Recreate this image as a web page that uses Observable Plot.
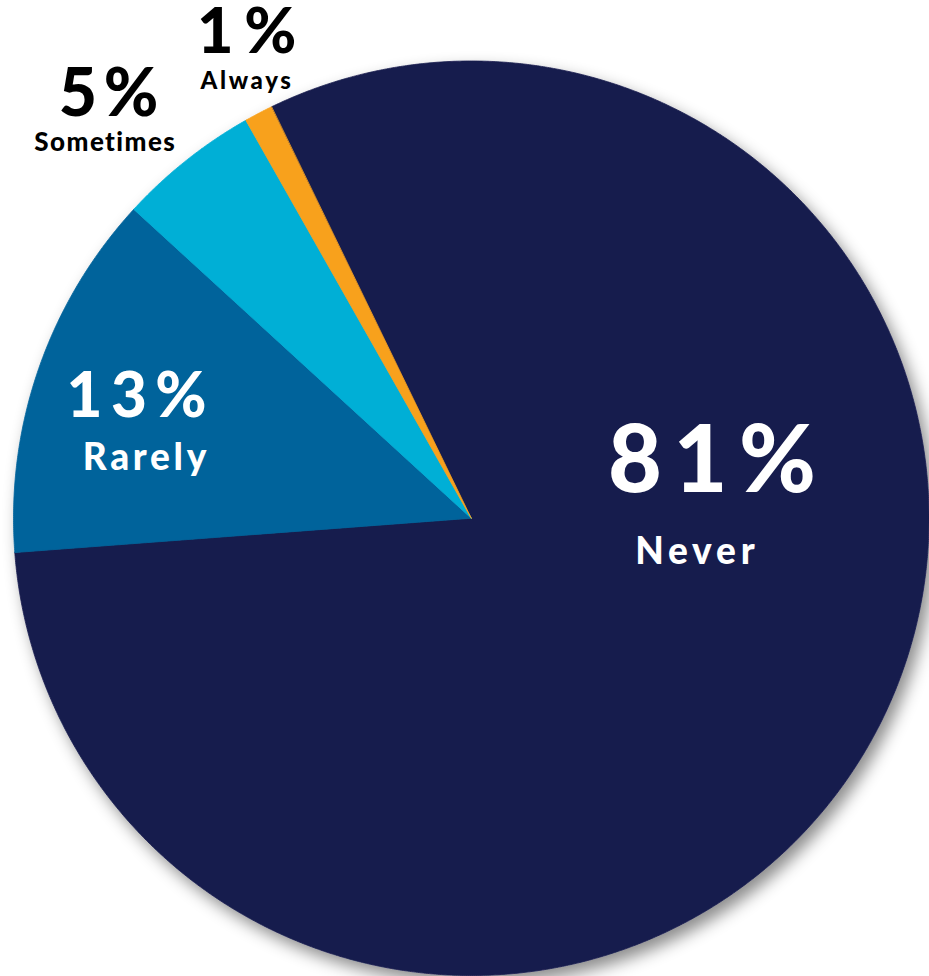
<!DOCTYPE html>
<html>
<head>
<meta charset="utf-8">
<script src="https://cdn.jsdelivr.net/npm/d3@7"></script>
<script src="https://cdn.jsdelivr.net/npm/@observablehq/plot@0.6"></script>
<style>
  html, body { margin: 0; padding: 0; background: #ffffff; }
  #chart svg { display: block; }
</style>
</head>
<body>
<div id="chart"></div>
<script>
// ---- data ----
const categories = ["Never", "Rarely", "Sometimes", "Always"];
const values = [81, 13, 5, 1];
const percentLabels = ["81%", "13%", "5%", "1%"];

// ---- styling / layout (not data) ----
const sliceColors = ["#161C4D", "#00639B", "#00AFD6", "#F8A11E"];
const startAngle = -25.9; // degrees clockwise from 12 o'clock
// label anchor in polar layout: angle (deg, clockwise from top), radius (fraction of pie radius)
const pctLayout = [
  {a: 83.83, r: 0.5288, size: 93, ls: 0.125, color: "#ffffff"},
  {a: 286.8, r: 0.7637, size: 62, ls: 0.135, color: "#ffffff"},
  {a: 317.96, r: 1.1832, size: 66, ls: 0.10, color: "#000000"},
  {a: 334.23, r: 1.1287, size: 63, ls: 0.17, color: "#000000"}
];
const nameLayout = [
  {a: 101.63, r: 0.4988, size: 37, ls: 0.13, color: "#ffffff"},
  {a: 278.36, r: 0.7213, size: 37, ls: 0.10, color: "#ffffff"},
  {a: 315.04, r: 1.1337, size: 26, ls: 0.055, color: "#000000"},
  {a: 332.33, r: 1.0612, size: 24, ls: 0.11, color: "#000000"}
];

// ---- build slice outlines from the values ----
const total = d3.sum(values);
const sliceRows = [];
let acc = 0;
categories.forEach((c, i) => {
  const a0 = startAngle + acc / total * 360;
  acc += values[i];
  const a1 = startAngle + acc / total * 360;
  sliceRows.push({category: c, x: 0, y: 0});
  const n = Math.max(2, Math.ceil((a1 - a0) / 0.25));
  for (let k = 0; k <= n; k++) {
    const a = (a0 + (a1 - a0) * k / n) * Math.PI / 180;
    sliceRows.push({category: c, x: Math.sin(a), y: Math.cos(a)});
  }
});

function polar(l) {
  const a = l.a * Math.PI / 180;
  return {x: l.r * Math.sin(a), y: l.r * Math.cos(a)};
}

const textMarks = [];
const spacings = [];
categories.forEach((c, i) => {
  const L = pctLayout[i];
  const p = polar(L);
  textMarks.push(Plot.text([{x: p.x, y: p.y, t: percentLabels[i]}], {
    x: "x", y: "y", text: "t", fill: L.color,
    fontSize: L.size, fontWeight: 900,
    textAnchor: "middle", lineAnchor: "bottom",
    dx: L.ls * L.size / 2
  }));
  spacings.push(L.ls);
  const N = nameLayout[i];
  const q = polar(N);
  textMarks.push(Plot.text([{x: q.x, y: q.y, t: c}], {
    x: "x", y: "y", text: "t", fill: N.color,
    fontSize: N.size, fontWeight: 900,
    textAnchor: "middle", lineAnchor: "bottom",
    dx: N.ls * N.size / 2
  }));
  spacings.push(N.ls);
});

const chart = Plot.plot({
  width: 929,
  height: 976,
  marginLeft: 13,
  marginRight: 0.5,
  marginTop: 60.5,
  marginBottom: 1,
  style: {fontFamily: "Lato, 'Noto Sans', sans-serif", background: "#ffffff", overflow: "visible"},
  x: {domain: [-1, 1], axis: null},
  y: {domain: [-1, 1], axis: null},
  color: {type: "ordinal", domain: categories, range: sliceColors},
  marks: [
    Plot.line(sliceRows, {
      x: "x", y: "y", z: "category",
      fill: "category", stroke: "category", strokeWidth: 0.8,
      curve: "linear-closed"
    }),
    ...textMarks
  ]
});

// drop shadow under the pie
const svg = d3.select(chart);
svg.insert("defs", ":first-child").html(
  '<filter id="pieShadow" x="-10%" y="-10%" width="125%" height="125%">' +
  '<feDropShadow dx="6" dy="8" stdDeviation="8" flood-color="#000" flood-opacity="0.45"/>' +
  '</filter>'
);
svg.select('g[aria-label="line"]').attr("filter", "url(#pieShadow)");
svg.selectAll('g[aria-label="text"]').each(function (d, i) {
  d3.select(this).selectAll("text").style("letter-spacing", spacings[i] + "em");
});

document.getElementById("chart").appendChild(chart);
</script>
</body>
</html>
